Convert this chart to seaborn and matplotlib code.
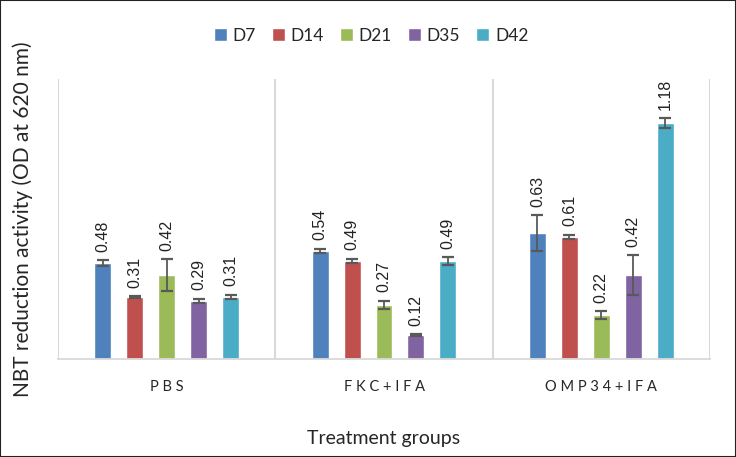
import pandas as pd
import numpy as np
import matplotlib
matplotlib.use('Agg')
import matplotlib.pyplot as plt
import seaborn as sns

# data
groups = ['PBS', 'FKC+IFA', 'OMP34+IFA']
group_labels = ['P B S', 'F K C + I F A', 'O M P 3 4 + I F A']
days = ['D7', 'D14', 'D21', 'D35', 'D42']
pbs = [0.48, 0.31, 0.42, 0.29, 0.31]
fkc = [0.54, 0.49, 0.27, 0.12, 0.49]
omp = [0.63, 0.61, 0.22, 0.42, 1.18]
pbs_sd = [0.015, 0.005, 0.08, 0.012, 0.012]
fkc_sd = [0.012, 0.012, 0.022, 0.003, 0.02]
omp_sd = [0.09, 0.012, 0.02, 0.1, 0.025]
colors = ['#4F81BD', '#C0504D', '#9BBB59', '#8064A2', '#4BACC6']

rows = []
for g, vals, sds in zip(groups, [pbs, fkc, omp], [pbs_sd, fkc_sd, omp_sd]):
    for d, v, s in zip(days, vals, sds):
        rows.append({'group': g, 'day': d, 'value': v, 'sd': s})
df = pd.DataFrame(rows)

sns.set_style('white')
plt.rcParams['font.family'] = ['Lato', 'DejaVu Sans']

fig = plt.figure(figsize=(7.36, 4.57), dpi=100)
ax = fig.add_axes([0.0788, 0.2144, 0.8859, 0.6127])

sns.barplot(data=df, x='group', y='value', hue='day', order=groups,
            hue_order=days, palette=colors, width=0.735, gap=0.47,
            errorbar=None, saturation=1, ax=ax, legend=True)

# error bars and value labels on each bar
for i, d in enumerate(days):
    cont = ax.containers[i]
    sub = df[df['day'] == d].set_index('group').loc[groups]
    for bar, v, s in zip(cont.patches, sub['value'], sub['sd']):
        xc = bar.get_x() + bar.get_width() / 2
        ax.errorbar(xc, v, yerr=s, fmt='none', ecolor='#595959',
                    elinewidth=1.3, capsize=4, capthick=1.6)
        ax.annotate(f'{v:.2f}', (xc, v + s), xytext=(0, 6),
                    textcoords='offset points', rotation=90,
                    ha='center', va='bottom', fontsize=11.5,
                    family='Liberation Sans', color='#222222')

ax.set_ylim(0, 1.4)
ax.set_xlim(-0.5, 2.5)
ax.set_yticks([])
ax.set_xticks(range(3))
ax.set_xticklabels(group_labels, fontsize=10.5)
ax.tick_params(axis='x', length=0, pad=15)
ax.set_xlabel('Treatment groups', fontsize=14, labelpad=26)
ax.set_ylabel('NBT reduction activity (OD at 620 nm)', fontsize=15,
              labelpad=18)

for sp in ['top', 'right', 'left']:
    ax.spines[sp].set_visible(False)
ax.spines['bottom'].set_color('#D9D9D9')
ax.spines['bottom'].set_linewidth(1.3)
for xv in [-0.5, 0.5, 1.5, 2.5]:
    ax.axvline(xv, color='#D9D9D9', lw=1.5, zorder=0)

leg = ax.legend(loc='lower center', bbox_to_anchor=(0.48, 1.07), ncol=5,
                frameon=False, fontsize=12.5, handlelength=0.75,
                handleheight=0.75, handletextpad=0.35, columnspacing=0.9)

fig.patches.append(plt.Rectangle((0, 0), 1, 1, transform=fig.transFigure,
                                 fill=False, edgecolor='#222222', lw=1.5))

fig.savefig('out.png', dpi=100)
